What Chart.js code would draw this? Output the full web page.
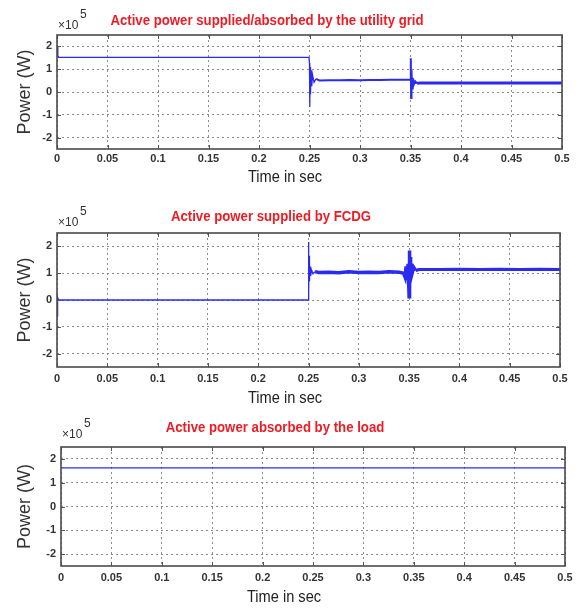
<!DOCTYPE html>
<html>
<head>
<meta charset="utf-8">
<script src="https://cdn.jsdelivr.net/npm/chart.js@4.4.0/dist/chart.umd.min.js"></script>
<style>
  html, body { margin: 0; padding: 0; background: #ffffff; }
  #wrap { position: relative; width: 581px; height: 610px; overflow: hidden; background: #ffffff; }
  .panel { position: absolute; left: 0; width: 581px; }
  canvas { display: block; }
</style>
</head>
<body>
<div id="wrap">
  <div class="panel" style="top:0px;height:200px"><canvas id="gridChart" width="581" height="200"></canvas></div>
  <div class="panel" style="top:200px;height:210px"><canvas id="fcdgChart" width="581" height="210"></canvas></div>
  <div class="panel" style="top:410px;height:200px"><canvas id="loadChart" width="581" height="200"></canvas></div>
</div>
<script>
// ---- axis ticks ----
const timeTicks = [0, 0.05, 0.1, 0.15, 0.2, 0.25, 0.3, 0.35, 0.4, 0.45, 0.5];
const timeTickLabels = ['0', '0.05', '0.1', '0.15', '0.2', '0.25', '0.3', '0.35', '0.4', '0.45', '0.5'];
const powerTicks = [-2, -1, 0, 1, 2];
const powerTickLabels = ['-2', '-1', '0', '1', '2'];

// ---- panel captions ----
const panelTitles = [
  'Active power supplied/absorbed by the utility grid',
  'Active power supplied by FCDG',
  'Active power absorbed by the load'
];
const xAxisTitle = 'Time in sec';
const yAxisTitle = 'Power (W)';

// ---- utility grid power (x 1e5 W) ----
const gridTime = [0, 0.0008, 0.0016, 0.003, 0.2495, 0.2500, 0.2503, 0.2506, 0.2510, 0.2515, 0.2522, 0.2530, 0.2545, 0.2565, 0.2600,
  0.2700, 0.2800, 0.2900, 0.3000, 0.3100, 0.3200, 0.3300, 0.3400, 0.3495,
  0.3500, 0.3503, 0.3506, 0.3510, 0.3515, 0.3522, 0.3530, 0.3545, 0.3565, 0.3600,
  0.3800, 0.4000, 0.4200, 0.4400, 0.4600, 0.4800, 0.5000];
const gridPower = [2.0, 1.6, 1.52, 1.52, 1.52, 1.26, -0.65, 1.1, -0.1, 0.95, 0.25, 0.75, 0.42, 0.58, 0.50,
  0.52, 0.51, 0.53, 0.52, 0.53, 0.53, 0.54, 0.54, 0.55,
  0.55, 1.48, -0.26, 0.95, 0.15, 0.62, 0.30, 0.48, 0.38, 0.40,
  0.40, 0.39, 0.40, 0.40, 0.39, 0.40, 0.40];

// ---- FCDG power (x 1e5 W) ----
const fcdgTime = [0, 0.0004, 0.0008, 0.0015, 0.2498, 0.2500, 0.2503, 0.2506, 0.2510, 0.2515, 0.2522, 0.2530, 0.2545, 0.2565, 0.2600,
  0.2700, 0.2800, 0.2900, 0.3000, 0.3100, 0.3200, 0.3300, 0.3400, 0.3445,
  0.3460, 0.3470, 0.3480, 0.3490, 0.3500, 0.3503, 0.3506, 0.3510, 0.3515, 0.3522, 0.3530, 0.3545, 0.3565, 0.3600,
  0.3800, 0.4000, 0.4200, 0.4400, 0.4600, 0.4800, 0.5000];
const fcdgPower = [0, -0.63, 0.1, 0, 0, 2.16, 0.3, 1.65, 0.7, 1.25, 0.9, 1.12, 0.98, 1.06, 1.03,
  1.04, 1.02, 1.05, 1.03, 1.04, 1.03, 1.05, 1.04, 1.0,
  0.85, 1.25, 0.75, 1.35, 0.12, 1.85, 0.4, 1.6, 0.8, 1.35, 1.0, 1.22, 1.1, 1.14,
  1.14, 1.15, 1.14, 1.15, 1.14, 1.15, 1.14];

// ---- load power (x 1e5 W) ----
const loadTime = [0, 0.5];
const loadPower = [1.62, 1.62];

const LINE_BLUE = '#2a2af2';
const FRAME = '#4a4a4a';
const TICK_FONT = { family: "'Liberation Sans', Arial, sans-serif", size: 11, weight: 'bold' };

// draw text squeezed horizontally to get a condensed face
function condensedText(ctx, text, x, y, squeeze) {
  ctx.save();
  ctx.translate(x, y);
  ctx.scale(squeeze, 1);
  ctx.fillText(text, 0, 0);
  ctx.restore();
}

// Frame, inner tick marks and the text around each panel
const panelDecor = {
  id: 'panelDecor',
  afterDraw(chart, args, opts) {
    const { ctx, chartArea: a, scales } = chart;
    ctx.save();
    // inner tick marks
    ctx.strokeStyle = '#555';
    ctx.lineWidth = 1;
    ctx.setLineDash([]);
    ctx.beginPath();
    timeTicks.forEach(v => {
      const x = Math.round(scales.x.getPixelForValue(v)) + 0.5;
      ctx.moveTo(x, a.bottom); ctx.lineTo(x, a.bottom - 4);
      ctx.moveTo(x, a.top); ctx.lineTo(x, a.top + 4);
    });
    powerTicks.forEach(v => {
      const y = Math.round(scales.y.getPixelForValue(v)) + 0.5;
      ctx.moveTo(a.left, y); ctx.lineTo(a.left + 4, y);
      ctx.moveTo(a.right, y); ctx.lineTo(a.right - 4, y);
    });
    ctx.stroke();
    // axes box
    ctx.strokeStyle = FRAME;
    ctx.lineWidth = 1.6;
    ctx.strokeRect(a.left, a.top, a.right - a.left, a.bottom - a.top);

    // panel title
    ctx.fillStyle = '#ee1c25';
    ctx.font = "bold 15px 'Liberation Sans', Arial, sans-serif";
    ctx.textAlign = 'center';
    ctx.textBaseline = 'middle';
    condensedText(ctx, opts.title, opts.titleX, opts.titleY, 0.88);

    // exponent label
    ctx.fillStyle = '#333';
    ctx.font = "12px 'Liberation Sans', Arial, sans-serif";
    ctx.textAlign = 'left';
    ctx.fillText('\u00d710', a.left + 1, opts.expY);
    ctx.font = "12px 'Liberation Sans', Arial, sans-serif";
    ctx.fillText('5', a.left + 23, opts.expY - 11);

    // x axis title
    ctx.fillStyle = '#222';
    ctx.font = "17px 'Liberation Sans', Arial, sans-serif";
    ctx.textAlign = 'center';
    condensedText(ctx, xAxisTitle, opts.xTitleX, opts.xTitleY, 0.86);
    ctx.restore();
  }
};

function buildPanel(id, time, power, geo) {
  const points = time.map((t, i) => ({ x: t, y: power[i] }));
  return new Chart(document.getElementById(id), {
    type: 'line',
    data: {
      datasets: [{
        data: points,
        borderColor: LINE_BLUE,
        borderWidth: 1.3,
        pointRadius: 0,
        tension: 0,
        fill: false,
        segment: {
          borderWidth: c => geo.thick(c.p0.parsed.x)
        }
      }]
    },
    options: {
      responsive: false,
      animation: false,
      events: [],
      layout: { padding: { top: geo.top, right: geo.right, bottom: geo.bottom, left: 0 } },
      plugins: {
        legend: { display: false },
        tooltip: { enabled: false },
        title: { display: false },
        panelDecor: {
          title: geo.title, titleX: geo.titleX, titleY: geo.titleY,
          expY: geo.expY, xTitleX: geo.xTitleX, xTitleY: geo.xTitleY
        }
      },
      scales: {
        x: {
          type: 'linear',
          min: 0,
          max: 0.5,
          afterBuildTicks: s => { s.ticks = timeTicks.map(v => ({ value: v })); },
          afterFit: s => { s.height = geo.xAxisH; },
          ticks: {
            autoSkip: false,
            maxRotation: 0,
            padding: geo.xTickPad,
            color: '#333',
            font: TICK_FONT,
            callback: (v, i) => timeTickLabels[i]
          },
          grid: { color: '#8c8c8c', lineWidth: 1, drawTicks: false },
          border: { display: false, dash: [2, 3] }
        },
        y: {
          type: 'linear',
          min: -2.5,
          max: 2.5,
          afterBuildTicks: s => { s.ticks = powerTicks.map(v => ({ value: v })); },
          afterFit: s => { s.width = geo.left; },
          ticks: {
            autoSkip: false,
            padding: 5,
            color: '#333',
            font: TICK_FONT,
            callback: (v, i) => powerTickLabels[i]
          },
          title: {
            display: true,
            text: yAxisTitle,
            color: '#333',
            padding: { top: 14, bottom: 0 },
            font: { family: "'Liberation Sans', Arial, sans-serif", size: 18 }
          },
          grid: { color: '#8c8c8c', lineWidth: 1, drawTicks: false },
          border: { display: false, dash: [2, 3] }
        }
      }
    },
    plugins: [panelDecor]
  });
}

buildPanel('gridChart', gridTime, gridPower, {
  left: 57, top: 35, right: 19, bottom: 31, xAxisH: 20, xTickPad: 3,
  title: panelTitles[0], titleX: 267, titleY: 21, expY: 26, xTitleX: 285, xTitleY: 177,
  thick: x => (x >= 0.356 ? 3 : (x >= 0.256 ? 2 : 1.3))
});
buildPanel('fcdgChart', fcdgTime, fcdgPower, {
  left: 57, top: 33, right: 21, bottom: 23, xAxisH: 20, xTickPad: 5,
  title: panelTitles[1], titleX: 271, titleY: 17, expY: 23, xTitleX: 285, xTitleY: 198,
  thick: x => (x >= 0.356 ? 3 : (x >= 0.256 ? 3.5 : 1.3))
});
buildPanel('loadChart', loadTime, loadPower, {
  left: 61, top: 37, right: 16, bottom: 24, xAxisH: 20, xTickPad: 5,
  title: panelTitles[2], titleX: 275, titleY: 18, expY: 25, xTitleX: 284, xTitleY: 187,
  thick: x => 1.3
});
</script>
</body>
</html>
